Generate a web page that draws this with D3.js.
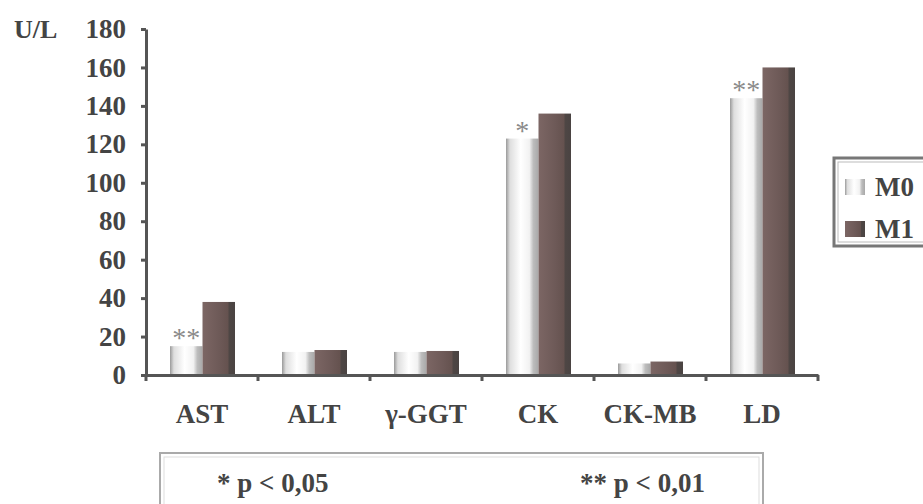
<!DOCTYPE html>
<html>
<head>
<meta charset="utf-8">
<script src="https://cdn.jsdelivr.net/npm/d3@7"></script>
<style>
  body { margin: 0; background: #fff; overflow: hidden; }
  svg { display: block; font-family: "Liberation Serif", "Times New Roman", serif; font-weight: bold; }
</style>
</head>
<body>
<svg id="chart" width="923" height="504"></svg>
<script>
// データ
const categories = ["AST", "ALT", "γ-GGT", "CK", "CK-MB", "LD"];
const seriesNames = ["M0", "M1"];
const m0Values = [15, 12, 12, 123, 6, 144];
const m1Values = [38, 13, 12.5, 136, 7, 160];
const signif = ["**", "", "", "*", "", "**"];
const yTicks = [0, 20, 40, 60, 80, 100, 120, 140, 160, 180];

const svg = d3.select('#chart');
const margin = { top: 29, left: 146 };
const innerWidth = 672;
const innerHeight = 346;
const fontSize = 27;

const chart = svg.append('g')
    .attr('transform', `translate(${margin.left}, ${margin.top})`);

// グラデーション
const defs = svg.append('defs');
const g0 = defs.append('linearGradient').attr('id', 'gM0');
[[0, '#9a9a9a'], [0.12, '#dedede'], [0.45, '#ffffff'], [0.72, '#f2f2f2'], [0.84, '#bdbdbd'], [1, '#a8a8a8']]
    .forEach(s => g0.append('stop').attr('offset', s[0]).attr('stop-color', s[1]));
const g1 = defs.append('linearGradient').attr('id', 'gM1');
[[0, '#7c6664'], [0.5, '#6e5a58'], [0.78, '#65524f'], [0.82, '#4e4644'], [1, '#4a4342']]
    .forEach(s => g1.append('stop').attr('offset', s[0]).attr('stop-color', s[1]));

const xscale = d3.scaleBand()
    .domain(categories)
    .range([0, innerWidth]);

const inner = d3.scaleBand()
    .domain(seriesNames)
    .range([24, 89]);

const yscale = d3.scaleLinear()
    .domain([0, 180])
    .range([innerHeight, 0]);

const data = categories.map((c, i) => ({ label: c, M0: m0Values[i], M1: m1Values[i], sig: signif[i] }));

// バー
const groups = chart.selectAll('.grp').data(data).enter()
    .append('g')
    .attr('transform', d => `translate(${xscale(d.label)}, 0)`);

groups.selectAll('rect')
    .data(d => seriesNames.map(s => ({ s: s, v: d[s] })))
    .enter().append('rect')
    .attr('x', d => inner(d.s))
    .attr('y', d => yscale(d.v))
    .attr('width', inner.bandwidth())
    .attr('height', d => innerHeight - yscale(d.v))
    .attr('fill', d => d.s === 'M0' ? 'url(#gM0)' : 'url(#gM1)');

// 有意差の記号
groups.append('text')
    .attr('x', d => inner('M0') + inner.bandwidth() / 2)
    .attr('y', d => yscale(d.M0) + 1)
    .attr('text-anchor', 'middle')
    .attr('fill', '#8a8a8a')
    .attr('font-weight', 'normal')
    .attr('font-size', 28)
    .text(d => d.sig);

// 軸
const yaxis = d3.axisLeft(yscale).tickValues(yTicks).tickSize(5).tickSizeOuter(0);
const xaxis = d3.axisBottom(xscale).tickSize(0).tickSizeOuter(0);

const yg = chart.append('g').call(yaxis);
yg.select('.domain').attr('stroke', '#555').attr('stroke-width', 3);
yg.selectAll('.tick line').attr('stroke', '#555').attr('stroke-width', 3);
yg.selectAll('.tick text')
    .attr('x', -20)
    .attr('font-size', fontSize)
    .attr('fill', '#444')
    .attr('font-family', '"Liberation Serif", serif')
    .attr('font-weight', 'bold');

const xg = chart.append('g')
    .attr('transform', `translate(0, ${innerHeight})`)
    .call(xaxis);
xg.select('.domain').attr('stroke', '#555').attr('stroke-width', 3);
xg.selectAll('.tick text')
    .attr('y', 48)
    .attr('dy', 0)
    .attr('font-size', fontSize)
    .attr('fill', '#444')
    .attr('font-family', '"Liberation Serif", serif')
    .attr('font-weight', 'bold');

// カテゴリ境界の目盛り
chart.append('g').selectAll('line')
    .data(categories.concat(['_end']))
    .enter().append('line')
    .attr('x1', (d, i) => i * xscale.bandwidth())
    .attr('x2', (d, i) => i * xscale.bandwidth())
    .attr('y1', innerHeight)
    .attr('y2', innerHeight + 6)
    .attr('stroke', '#555')
    .attr('stroke-width', 3);

// 単位
svg.append('text')
    .attr('x', 14).attr('y', 38)
    .attr('font-size', 26).attr('fill', '#444')
    .text('U/L');

// 凡例
const legend = svg.append('g').attr('transform', 'translate(833, 157)');
legend.append('rect')
    .attr('x', 1).attr('y', 1).attr('width', 100).attr('height', 88)
    .attr('fill', '#fff').attr('stroke', '#777').attr('stroke-width', 3);
legend.append('rect')
    .attr('x', 5).attr('y', 5).attr('width', 100).attr('height', 80)
    .attr('fill', 'none').attr('stroke', '#bbb').attr('stroke-width', 1);
seriesNames.forEach((s, i) => {
    const yy = 22 + i * 42;
    legend.append('rect')
        .attr('x', 12).attr('y', yy).attr('width', 20).attr('height', 16)
        .attr('fill', s === 'M0' ? 'url(#gM0)' : 'url(#gM1)');
    legend.append('text')
        .attr('x', 42).attr('y', yy + 17)
        .attr('font-size', 27).attr('fill', '#444')
        .text(s);
});

// p値のボックス
const pbox = svg.append('g').attr('transform', 'translate(160, 453)');
pbox.append('rect')
    .attr('x', 0).attr('y', 0).attr('width', 603).attr('height', 70)
    .attr('fill', '#fff').attr('stroke', '#aaa').attr('stroke-width', 2);
pbox.append('rect')
    .attr('x', 4).attr('y', 4).attr('width', 595).attr('height', 70)
    .attr('fill', 'none').attr('stroke', '#ddd').attr('stroke-width', 1);
pbox.append('text')
    .attr('x', 57).attr('y', 39)
    .attr('font-size', 27).attr('fill', '#444')
    .text('* p < 0,05');
pbox.append('text')
    .attr('x', 420).attr('y', 39)
    .attr('font-size', 27).attr('fill', '#444')
    .text('** p < 0,01');
</script>
</body>
</html>
